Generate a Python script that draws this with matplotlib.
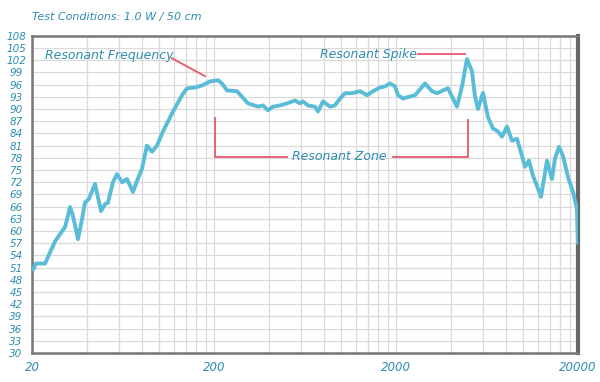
import matplotlib
matplotlib.use("Agg")
import matplotlib.pyplot as plt
import numpy as np

# frequency response (Hz, dB)
freq = [20.3, 21.0, 23.6, 25.1, 26.8, 28.5, 30.4, 32.4, 33.6, 35.8, 37.7, 39.1, 41.1,
        44.4, 47.9, 50.4, 52.3, 55.7, 58.6, 62.5, 66.5, 71.8, 75.5, 80.4, 85.7, 91.3,
        97.2, 104.9, 119.1, 133.5, 142.1, 157.3, 171.8, 190.1, 210.4, 221.3, 235.8,
        267.6, 307.6, 349, 371.8, 396.1, 422, 461, 503.6, 557.4, 593.9, 616.6, 657,
        717.8, 745.4, 794.3, 867.8, 924.6, 985, 1049, 1146, 1268, 1386, 1495, 1634,
        1740, 1854, 1975, 2052, 2186, 2388, 2544, 2886, 3153, 3359, 3624, 3862, 4062,
        4327, 4610, 4911, 5231, 5434, 5644, 6012, 6405, 6823, 7268, 7646, 8145, 8677,
        9243, 9848, 10228, 10760, 11316, 11906, 12524, 13010, 13512, 14392, 14948,
        15729, 16546, 17625, 18774, 19748, 20000]
spl = [50.5, 52.0, 52.0, 54.7, 57.5, 59.2, 61.0, 65.9, 63.7, 58.0, 63.0, 67.0, 67.9,
       71.6, 64.9, 66.6, 67.0, 72.0, 74.0, 72.0, 72.8, 69.6, 72.3, 75.3, 81.0, 79.5,
       81.0, 84.5, 89.4, 93.4, 95.1, 95.3, 95.8, 96.8, 97.1, 96.3, 94.6,
       94.4, 91.4, 90.6, 90.9, 89.7, 90.6, 90.9, 91.4, 92.1, 91.4, 91.9, 90.9,
       90.6, 89.4, 91.9, 90.6, 90.9, 92.6, 93.9, 93.9, 94.4, 93.4, 94.4, 95.3,
       95.6, 96.3, 95.6, 93.4, 92.6, 93.1, 93.4, 96.3, 94.4, 93.9, 94.6, 95.1, 93.1,
       90.6, 95.6, 102.3, 99.3, 93.1, 90.0, 94.0, 88.0, 85.2, 84.5, 83.2, 85.7, 82.2,
       82.7, 78.5, 75.8, 77.3, 73.6, 71.1, 68.4, 72.8, 77.3, 72.8, 77.8,
       80.7, 78.5, 73.3, 69.6, 65.4, 57.0]

y_ticks = list(range(30, 109, 3))
x_ticks = [20, 200, 2000, 20000]
x_tick_labels = ["20", "200", "2000", "20000"]

text_color = "#2f8db0"
line_color = "#5bbcd8"
red = "#e8566c"

plt.rcParams['font.family'] = ['DejaVu Sans']
fig = plt.figure(figsize=(6, 3.82), dpi=100)
ax = fig.add_axes([0.0533, 0.076, 0.910, 0.830])

ax.plot(freq, spl, color=line_color, lw=2.8, solid_joinstyle='round',
        solid_capstyle='round', zorder=3)

ax.set_xscale('log')
ax.set_xlim(20, 20000)
ax.set_ylim(30, 108)

# grid: vertical lines at 2,4,6...x10^k, horizontal every 3 dB
minor = [m * 10 ** k for k in range(1, 4) for m in range(2, 20, 2)]
minor = [v for v in minor if 20 < v < 20000]
for v in minor:
    ax.axvline(v, color="#dadada", lw=0.9, zorder=1)
for v in y_ticks[1:-1]:
    ax.axhline(v, color="#dadada", lw=0.9, zorder=1)

ax.set_xticks(x_ticks)
ax.set_xticklabels(x_tick_labels)
ax.xaxis.set_minor_locator(matplotlib.ticker.NullLocator())
ax.set_yticks(y_ticks)
ax.tick_params(axis='both', length=0, colors=text_color)
ax.tick_params(axis='y', labelsize=7.5, pad=11.5)
ax.tick_params(axis='x', labelsize=8.5, pad=6)
for lab in ax.get_yticklabels():
    lab.set_horizontalalignment('center')
for lab in ax.get_xticklabels() + ax.get_yticklabels():
    lab.set_style('italic')

for side in ['left', 'bottom', 'top']:
    ax.spines[side].set_color("#777777")
    ax.spines[side].set_linewidth(1.8)
ax.spines['right'].set_color("#666666")
ax.spines['right'].set_linewidth(3)

fig.text(0.053, 0.955, "Test Conditions: 1.0 W / 50 cm", color=text_color,
         fontsize=8, style='italic', va='center')

# annotations
ax.text(23.6, 103.3, "Resonant Frequency", color=text_color, fontsize=9,
        style='italic', va='center', zorder=4)
ax.plot([117.5, 178.4], [102.5, 98.1], color=red, lw=1.3, zorder=4)

ax.text(764, 103.5, "Resonant Spike", color=text_color, fontsize=9,
        style='italic', va='center', zorder=4)
ax.plot([2642, 4788], [103.5, 103.5], color=red, lw=1.3, zorder=4)

ax.plot([202.6, 202.6, 503.6], [87.7, 78.3, 78.3], color=red, lw=1.3, zorder=4)
ax.plot([1926, 4972, 4972], [78.3, 78.3, 87.2], color=red, lw=1.3, zorder=4)
ax.text(979, 78.3, "Resonant Zone", color=text_color, fontsize=9,
        style='italic', va='center', ha='center', zorder=4)

fig.savefig("out.png", dpi=100)
